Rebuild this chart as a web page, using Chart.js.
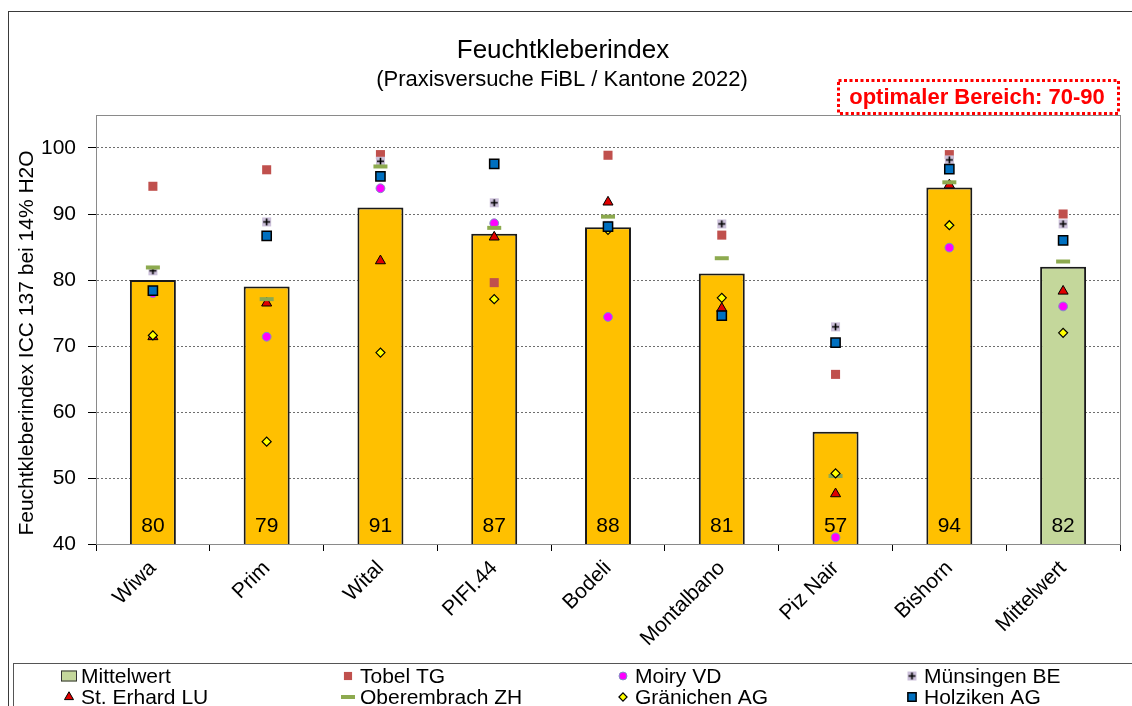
<!DOCTYPE html>
<html>
<head>
<meta charset="utf-8">
<title>Feuchtkleberindex</title>
<script src="https://cdn.jsdelivr.net/npm/chart.js@4.4.1/dist/chart.umd.min.js"></script>
<style>
  html, body { margin: 0; padding: 0; background: #ffffff; }
  canvas { display: block; }
</style>
</head>
<body>
<canvas id="chart" width="1132" height="706"></canvas>
<script>
// Sorten (varieties) plus the overall mean
const categories = ['Wiwa', 'Prim', 'Wital', 'PIFI.44', 'Bodeli', 'Montalbano', 'Piz Nair', 'Bishorn', 'Mittelwert'];

// Mean over all sites (bars)
const mittelwert = [80, 79, 91, 87, 88, 81, 57, 94, 82];

// Single sites (markers)
const tobelTG       = [94.2, 96.7, 99.0, 79.6, 98.9, 86.8, 65.7, 99.0, 90.0];
const moiryVD       = [78.0, 71.4, 93.9, 88.6, 74.4, 75.2, 41.0, 84.9, 76.0];
const muensingenBE  = [81.4, 88.8, 98.0, 91.7, 88.3, 88.5, 72.9, 98.2, 88.5];
const stErhardLU    = [71.4, 76.5, 82.9, 86.5, 91.8, 75.7, 47.6, 94.4, 78.3];
const oberembrachZH = [81.9, 77.1, 97.2, 87.9, 89.6, 83.3, 50.3, 94.8, 82.8];
const graenichenAG  = [71.6, 55.5, 69.0, 77.1, 87.6, 77.3, 50.7, 88.3, 72.0];
const holzikenAG    = [78.4, 86.7, 95.7, 97.6, 88.1, 74.6, 70.5, 96.8, 86.0];

const yTickValues = [40, 50, 60, 70, 80, 90, 100];

const titleText = 'Feuchtkleberindex';
const subtitleText = '(Praxisversuche FiBL / Kantone 2022)';
const yTitleText = 'Feuchtkleberindex ICC 137 bei 14% H2O';
const rangeText = 'optimaler Bereich: 70-90';

const FONT = "'Liberation Sans', Arial, Helvetica, sans-serif";
const ORANGE = '#FFC000';
const GREEN = '#C4D79B';

Chart.defaults.font.family = FONT;
Chart.defaults.color = '#000';

// lavender square with a black plus, used for Münsingen BE
function plusMarker() {
  const c = document.createElement('canvas');
  c.width = 11; c.height = 11;
  const g = c.getContext('2d');
  g.fillStyle = '#CCC0DA';
  g.fillRect(1, 1, 9, 9);
  g.strokeStyle = '#000';
  g.lineWidth = 1.6;
  g.beginPath();
  g.moveTo(5.5, 2); g.lineTo(5.5, 9);
  g.moveTo(2, 5.5); g.lineTo(9, 5.5);
  g.stroke();
  return c;
}

function markers(label, data, style, order) {
  return Object.assign({
    type: 'line',
    label: label,
    data: data,
    showLine: false,
    order: order,
    clip: false,
    pointHoverRadius: style.pointRadius
  }, style);
}

const datasets = [
  {
    type: 'bar',
    label: 'Mittelwert',
    data: mittelwert,
    backgroundColor: categories.map(c => c === 'Mittelwert' ? GREEN : ORANGE),
    legendColor: GREEN,
    borderColor: '#1a1a1a',
    borderWidth: 2,
    borderSkipped: false,
    barPercentage: 0.404,
    categoryPercentage: 1,
    order: 20
  },
  markers('Tobel TG', tobelTG, {
    pointStyle: 'rect', pointRadius: 6.4,
    pointBackgroundColor: '#C0504D', pointBorderColor: '#C0504D', pointBorderWidth: 0
  }, 9),
  markers('Moiry VD', moiryVD, {
    pointStyle: 'circle', pointRadius: 4.4,
    pointBackgroundColor: '#FF00FF', pointBorderColor: '#7F92C4', pointBorderWidth: 1
  }, 8),
  markers('Münsingen BE', muensingenBE, {
    pointStyle: plusMarker(), pointRadius: 5.5,
    pointBackgroundColor: '#CCC0DA', pointBorderColor: '#000', pointBorderWidth: 0
  }, 7),
  markers('St. Erhard LU', stErhardLU, {
    pointStyle: 'triangle', pointRadius: 5.8,
    pointBackgroundColor: '#E00000', pointBorderColor: '#000', pointBorderWidth: 1
  }, 6),
  markers('Oberembrach ZH', oberembrachZH, {
    pointStyle: 'line', pointRadius: 7,
    pointBackgroundColor: '#8DAA4F', pointBorderColor: '#8DAA4F', pointBorderWidth: 4
  }, 5),
  markers('Gränichen AG', graenichenAG, {
    pointStyle: 'rectRot', pointRadius: 4.5,
    pointBackgroundColor: '#FFFF00', pointBorderColor: '#000', pointBorderWidth: 1.2
  }, 4),
  markers('Holziken AG', holzikenAG, {
    pointStyle: 'rect', pointRadius: 6.5,
    pointBackgroundColor: '#0070C0', pointBorderColor: '#000', pointBorderWidth: 1.5
  }, 3)
];

// value printed at the foot of every bar
const barValueLabels = {
  id: 'barValueLabels',
  afterDatasetDraw(chart, args) {
    if (args.index !== 0) return;
    const ctx = chart.ctx;
    ctx.save();
    ctx.font = '21px ' + FONT;
    ctx.fillStyle = '#000';
    ctx.textAlign = 'center';
    ctx.textBaseline = 'middle';
    args.meta.data.forEach((bar, i) => {
      ctx.fillText(String(mittelwert[i]), bar.x, chart.chartArea.bottom - 18);
    });
    ctx.restore();
  }
};

function drawMarker(ctx, ds, x, y) {
  ctx.save();
  if (ds.type === 'bar') {
    ctx.fillStyle = ds.legendColor;
    ctx.strokeStyle = '#333';
    ctx.lineWidth = 1;
    ctx.fillRect(x - 8, y - 5.5, 16, 11);
    ctx.strokeRect(x - 8 + 0.5, y - 5.5 + 0.5, 15, 10);
  } else {
    ctx.fillStyle = ds.pointBackgroundColor;
    ctx.strokeStyle = ds.pointBorderColor;
    ctx.lineWidth = ds.pointBorderWidth;
    Chart.helpers.drawPoint(ctx, {
      pointStyle: ds.pointStyle,
      rotation: 0,
      radius: ds.pointStyle === 'line' ? 7 : ds.pointRadius * 0.9,
      borderWidth: ds.pointBorderWidth
    }, x, y);
  }
  ctx.restore();
}

const decorations = {
  id: 'decorations',
  beforeDraw(chart) {
    const ctx = chart.ctx;
    ctx.save();
    ctx.fillStyle = '#fff';
    ctx.fillRect(0, 0, chart.width, chart.height);
    // outer frame of the chart
    ctx.strokeStyle = '#3a3a3a';
    ctx.lineWidth = 1;
    ctx.strokeRect(8.5, 11.5, chart.width + 20, chart.height + 20);
    ctx.restore();
  },
  beforeDatasetsDraw(chart) {
    const a = chart.chartArea;
    const ctx = chart.ctx;
    ctx.save();
    ctx.strokeStyle = '#8a8a8a';
    ctx.lineWidth = 1;
    ctx.strokeRect(Math.round(a.left) + 0.5, Math.round(a.top) + 0.5,
                   Math.round(a.right - a.left), Math.round(a.bottom - a.top));
    ctx.restore();
  },
  afterDraw(chart) {
    const ctx = chart.ctx;
    ctx.save();

    // title and subtitle
    ctx.fillStyle = '#000';
    ctx.textAlign = 'center';
    ctx.textBaseline = 'alphabetic';
    ctx.font = '26px ' + FONT;
    ctx.fillText(titleText, 563, 58);
    ctx.font = '22px ' + FONT;
    ctx.fillText(subtitleText, 562, 86);

    // y axis title
    ctx.save();
    ctx.translate(27, 343);
    ctx.rotate(-Math.PI / 2);
    ctx.font = '21px ' + FONT;
    ctx.textBaseline = 'middle';
    ctx.fillText(yTitleText, 0, 0);
    ctx.restore();

    // optimal range box
    ctx.save();
    ctx.strokeStyle = '#FF0000';
    ctx.lineWidth = 3;
    ctx.setLineDash([3, 2.5]);
    ctx.strokeRect(838.5, 80.5, 280, 33);
    ctx.restore();
    ctx.fillStyle = '#FF0000';
    ctx.font = 'bold 22px ' + FONT;
    ctx.textBaseline = 'middle';
    ctx.fillText(rangeText, 977, 98);

    // legend box
    ctx.strokeStyle = '#555';
    ctx.lineWidth = 1;
    ctx.strokeRect(13.5, 663.5, chart.width + 20, 60);

    const colX = [69, 348, 623, 912];
    const rowY = [676, 697];
    ctx.font = '21px ' + FONT;
    ctx.textAlign = 'left';
    ctx.textBaseline = 'middle';
    chart.data.datasets.forEach((ds, i) => {
      const cx = colX[i % 4];
      const cy = rowY[Math.floor(i / 4)];
      drawMarker(ctx, ds, cx, cy);
      ctx.fillStyle = '#000';
      ctx.fillText(ds.label, cx + 12, cy + 1);
    });
    ctx.restore();
  }
};

new Chart(document.getElementById('chart'), {
  data: { labels: categories, datasets: datasets },
  options: {
    responsive: false,
    animation: false,
    devicePixelRatio: 1,
    layout: { padding: { left: 0, right: 12, top: 115, bottom: 0 } },
    plugins: {
      legend: { display: false },
      tooltip: { enabled: false },
      title: { display: false }
    },
    scales: {
      x: {
        type: 'category',
        offset: true,
        grid: {
          offset: true,
          drawOnChartArea: false,
          drawTicks: true,
          tickLength: 7,
          tickColor: '#000',
          lineWidth: 1
        },
        border: { display: true, color: '#000', width: 1 },
        ticks: {
          font: { size: 21, family: FONT },
          color: '#000',
          minRotation: 45,
          maxRotation: 45,
          padding: 5,
          autoSkip: false
        },
        afterFit(scale) { scale.height = 162; }
      },
      y: {
        min: 40,
        max: 105,
        grid: {
          color: ctx => (ctx.tick && ctx.tick.value === 40) ? 'rgba(0,0,0,0)' : '#6e6e6e',
          lineWidth: 1,
          drawTicks: true,
          tickLength: 8,
          tickColor: '#000',
          tickBorderDash: []
        },
        border: { display: true, color: '#8a8a8a', width: 1, dash: [2, 2] },
        ticks: {
          font: { size: 21, family: FONT },
          color: '#000',
          padding: 12,
          stepSize: 10
        },
        afterBuildTicks(scale) {
          scale.ticks = yTickValues.map(v => ({ value: v }));
        },
        afterFit(scale) { scale.width = 96; }
      }
    }
  },
  plugins: [barValueLabels, decorations]
});
</script>
</body>
</html>
